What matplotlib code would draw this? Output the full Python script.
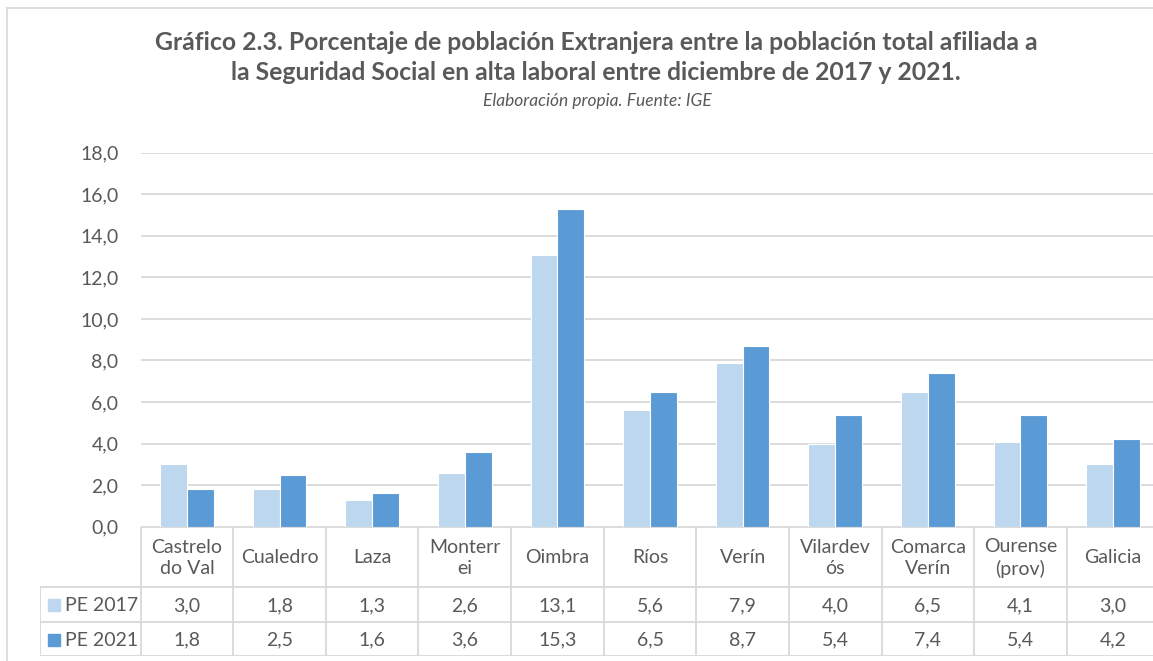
import numpy as np
import matplotlib
matplotlib.use("Agg")
import matplotlib.pyplot as plt
from matplotlib.lines import Line2D
from matplotlib.patches import Rectangle

plt.rcParams['font.family'] = ['Lato', 'DejaVu Sans']

# data
categories = ["Castrelo\ndo Val", "Cualedro", "Laza", "Monterr\nei", "Oimbra",
              "Ríos", "Verín", "Vilardev\nós", "Comarca\nVerín", "Ourense\n(prov)", "Galicia"]
pe_2017 = [3.0, 1.8, 1.3, 2.6, 13.1, 5.6, 7.9, 4.0, 6.5, 4.1, 3.0]
pe_2021 = [1.8, 2.5, 1.6, 3.6, 15.3, 6.5, 8.7, 5.4, 7.4, 5.4, 4.2]
series_names = ["PE 2017", "PE 2021"]
yticks = np.arange(0, 19, 2)

c_light = "#BDD7EE"
c_dark = "#5B9BD5"
grid_c = "#D9D9D9"
txt_c = "#595959"

W, H = 1153, 661
fig = plt.figure(figsize=(W / 100, H / 100), dpi=100)

def fx(px):
    return px / W

def fy(py):
    return 1 - py / H

# chart border (cropped on right and bottom)
fig.add_artist(Line2D([fx(7), fx(7)], [fy(8), 0], color=grid_c, lw=1.2))
fig.add_artist(Line2D([fx(7), 1], [fy(8), fy(8)], color=grid_c, lw=1.2))

# main plot area
left_px, right_px = 140.7, 1159.3
top_px, base_px = 152.7, 526.7
ax = fig.add_axes([fx(left_px), fy(base_px), fx(right_px - left_px), (base_px - top_px) / H])
n = len(categories)
x = np.arange(n) + 0.5
bw = 0.29
ax.bar(x - bw / 2, pe_2017, bw, color=c_light, edgecolor="white", linewidth=0.8, zorder=3)
ax.bar(x + bw / 2, pe_2021, bw, color=c_dark, edgecolor="white", linewidth=0.8, zorder=3)
ax.set_xlim(0, n)
ax.set_ylim(0, 18)
ax.set_yticks(yticks)
ax.set_yticklabels([f"{v:.1f}".replace(".", ",") for v in yticks], fontsize=14, color=txt_c)
ax.tick_params(axis="y", length=0, pad=16)
ax.set_xticks([])
ax.yaxis.grid(True, color=grid_c, lw=1.3, zorder=0)
for s in ax.spines.values():
    s.set_visible(False)

# data table
tleft_px, tbot_px = 40, 656
unit = (right_px - left_px) / n
tax = fig.add_axes([fx(tleft_px), fy(tbot_px), fx(right_px - tleft_px), (tbot_px - base_px) / H])
tax.set_xlim(-(left_px - tleft_px) / unit, n)
tax.set_ylim(tbot_px - base_px, 0)
tax.axis("off")
hdr_h, r1 = 60.5, 95.5
lk = dict(color=grid_c, lw=1.3, solid_capstyle="butt")
tax.plot([0, n], [0, 0], **lk)
xl = tax.get_xlim()[0]
tax.plot([xl, n], [hdr_h, hdr_h], **lk)
tax.plot([xl, n], [r1, r1], **lk)
tax.plot([xl, n], [129.3, 129.3], **lk)
tax.plot([xl, xl], [hdr_h, 129.3], **lk)
for i in range(n + 1):
    tax.plot([i, i], [0, 129.3], **lk)

for i, cat in enumerate(categories):
    tax.text(i + 0.5, hdr_h / 2 + 1, cat, ha="center", va="center", fontsize=14,
             color=txt_c, linespacing=1.32)
    tax.text(i + 0.5, (hdr_h + r1) / 2 + 1, f"{pe_2017[i]:.1f}".replace(".", ","),
             ha="center", va="center", fontsize=14, color=txt_c)
    tax.text(i + 0.5, (r1 + 129.3) / 2 + 1, f"{pe_2021[i]:.1f}".replace(".", ","),
             ha="center", va="center", fontsize=14, color=txt_c)

for j, (name, col, (y0, y1)) in enumerate(zip(series_names, [c_light, c_dark],
                                             [(hdr_h, r1), (r1, 129.3)])):
    yc = (y0 + y1) / 2
    sq = 12 / unit
    tax.add_patch(Rectangle((xl + 8 / unit, yc - 5.5), sq, 12, color=col, clip_on=False))
    tax.text(xl + 25 / unit, yc + 1, name, ha="left", va="center", fontsize=14, color=txt_c)

# titles
fig.text(fx(596), fy(42), "Gráfico 2.3. Porcentaje de población Extranjera entre la población total afiliada a",
         ha="center", va="center", fontsize=17.8, fontweight="bold", color=txt_c)
fig.text(fx(596), fy(72), "la Seguridad Social en alta laboral entre diciembre de 2017 y 2021.",
         ha="center", va="center", fontsize=17.8, fontweight="bold", color=txt_c)
fig.text(fx(597), fy(101), "Elaboración propia. Fuente: IGE",
         ha="center", va="center", fontsize=12.5, style="italic", color=txt_c)

fig.savefig("out.png", dpi=100)
